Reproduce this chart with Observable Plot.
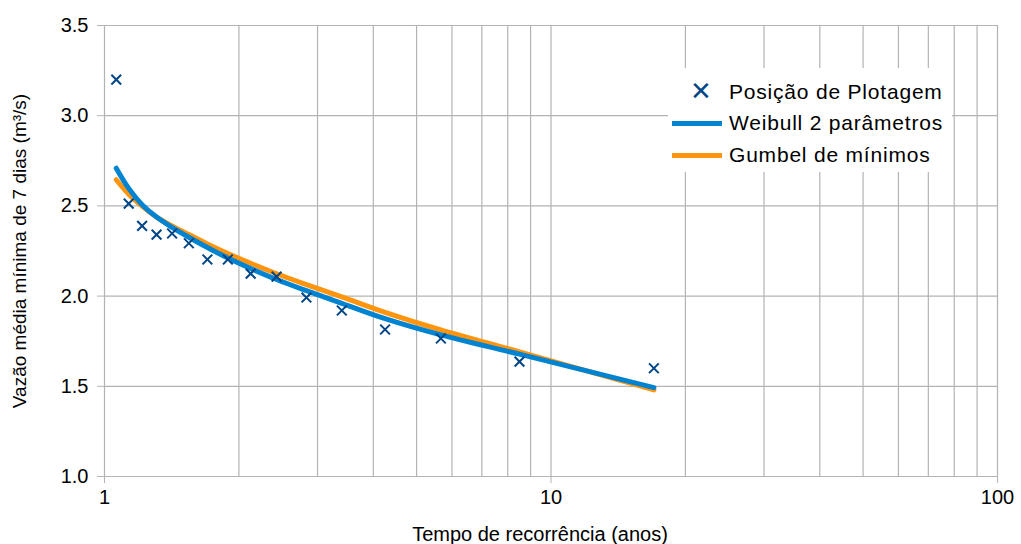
<!DOCTYPE html>
<html>
<head>
<meta charset="utf-8">
<script src="https://cdn.jsdelivr.net/npm/d3@7"></script>
<script src="https://cdn.jsdelivr.net/npm/@observablehq/plot@0.6"></script>
<style>
  body { margin: 0; background: #fff; font-family: "Liberation Sans", Arial, sans-serif; }
  #wrap { position: relative; width: 1021px; height: 544px; }
  #legend { position: absolute; left: 668px; top: 68px; width: 284px; height: 104px; background: #fff; }
  .item { position: absolute; left: 0; height: 30px; width: 284px; }
  .item .txt { position: absolute; left: 61px; top: 50%; transform: translateY(-50%); font-size: 21px; letter-spacing: 0.8px; color: #000; white-space: nowrap; }
  .item .ln { position: absolute; left: 4px; width: 50px; height: 5px; top: 50%; margin-top: -2.5px; }
  .item .mk { position: absolute; left: 22px; top: 50%; transform: translateY(-52%); font-size: 26px; color: #004586; line-height: 1; }
</style>
</head>
<body>
<div id="wrap"></div>
<script>
// Return periods (anos) of the plotted observations
const periods = [17, 8.5, 5.667, 4.25, 3.4, 2.833, 2.429, 2.125, 1.889, 1.7, 1.545, 1.417, 1.308, 1.214, 1.133, 1.0625];
// Observed 7-day minimum flows (m³/s)
const observed = [1.60, 1.637, 1.765, 1.815, 1.92, 1.992, 2.108, 2.125, 2.203, 2.203, 2.293, 2.347, 2.341, 2.389, 2.513, 3.20];
// Fitted Weibull 2-parameter curve
const weibull = [1.493, 1.678, 1.785, 1.875, 1.960, 2.030, 2.092, 2.153, 2.211, 2.269, 2.326, 2.381, 2.438, 2.507, 2.597, 2.709];
// Fitted Gumbel (minimum) curve
const gumbel = [1.480, 1.691, 1.812, 1.910, 1.996, 2.064, 2.124, 2.182, 2.236, 2.289, 2.341, 2.389, 2.438, 2.499, 2.565, 2.645];

const xGrid = [1, 2, 3, 4, 5, 6, 7, 8, 9, 10, 20, 30, 40, 50, 60, 70, 80, 90, 100];
const xTicks = [1, 10, 100];
const yTicks = [1.0, 1.5, 2.0, 2.5, 3.0, 3.5];

const seriesNames = ["Posição de Plotagem", "Weibull 2 parâmetros", "Gumbel de mínimos"];
const colors = { points: "#004586", weibull: "#0084d1", gumbel: "#ff950e" };

const obsData = periods.map((t, i) => ({ t, q: observed[i] }));
const weiData = periods.map((t, i) => ({ t, q: weibull[i] }));
const gumData = periods.map((t, i) => ({ t, q: gumbel[i] }));

const grid = "#b3b3b3";

const chart = Plot.plot({
  width: 1021,
  height: 544,
  marginLeft: 104,
  marginRight: 24,
  marginTop: 25,
  marginBottom: 68,
  style: { fontFamily: "'Liberation Sans', Arial, sans-serif", background: "#fff" },
  x: { type: "log", domain: [1, 100] },
  y: { domain: [1, 3.5] },
  marks: [
    Plot.ruleX(xGrid, { stroke: grid, strokeWidth: 1.2 }),
    Plot.ruleY(yTicks, { stroke: grid, strokeWidth: 1.2 }),
    Plot.axisX({
      ticks: xTicks, tickSize: 7, tickPadding: 6, stroke: grid, color: "#000",
      fontSize: 20, tickFormat: d => String(d),
      label: "Tempo de recorrência (anos)", labelAnchor: "center", labelOffset: 64, labelArrow: "none"
    }),
    Plot.axisY({
      ticks: yTicks, tickSize: 7, tickPadding: 9, stroke: grid, color: "#000",
      fontSize: 20, tickFormat: d => d.toFixed(1),
      label: "Vazão média mínima de 7 dias (m³/s)", labelAnchor: "center", labelOffset: 92, labelArrow: "none"
    }),
    Plot.line(gumData, { x: "t", y: "q", stroke: colors.gumbel, strokeWidth: 5, curve: "catmull-rom" }),
    Plot.line(weiData, { x: "t", y: "q", stroke: colors.weibull, strokeWidth: 5, curve: "catmull-rom" }),
    Plot.dot(obsData, { x: "t", y: "q", symbol: "times", r: 4.5, stroke: colors.points, strokeWidth: 2 })
  ]
});

chart.querySelectorAll("g[aria-label='y-axis label'] text").forEach(t => t.setAttribute("font-size", 19));
chart.querySelectorAll("g[aria-label='x-axis label'] text").forEach(t => {
  t.setAttribute("font-size", 20);
  t.setAttribute("dx", -11);
});

const wrap = document.getElementById("wrap");
wrap.appendChild(chart);

const legend = document.createElement("div");
legend.id = "legend";
legend.innerHTML = `
  <div class="item" style="top:9px"><span class="mk">&#x2715;</span><span class="txt">${seriesNames[0]}</span></div>
  <div class="item" style="top:40px"><span class="ln" style="background:${colors.weibull}"></span><span class="txt">${seriesNames[1]}</span></div>
  <div class="item" style="top:72px"><span class="ln" style="background:${colors.gumbel}"></span><span class="txt">${seriesNames[2]}</span></div>
`;
wrap.appendChild(legend);
</script>
</body>
</html>
